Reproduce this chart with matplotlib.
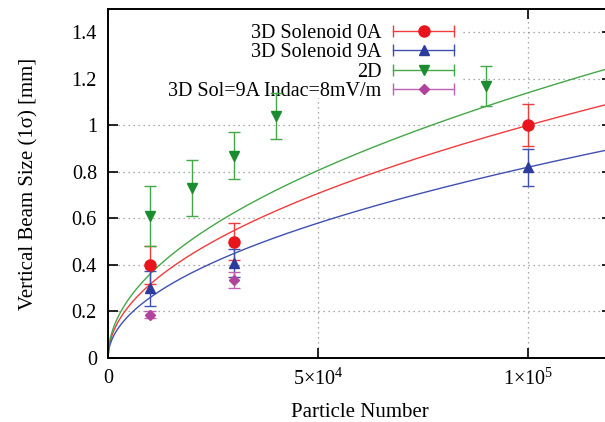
import numpy as np
import matplotlib
matplotlib.use('Agg')
import matplotlib.pyplot as plt
from matplotlib.lines import Line2D
from matplotlib.patches import Rectangle
from matplotlib.legend_handler import HandlerLine2D

plt.rcParams['font.family'] = ['Liberation Serif', 'DejaVu Serif']
plt.rcParams['mathtext.fontset'] = 'custom'
plt.rcParams['mathtext.rm'] = 'Liberation Serif'
plt.rcParams['mathtext.it'] = 'Liberation Serif:italic'

# datos (x = numero de particulas, y = tamano vertical en mm)
x_0a = [1e4, 3e4, 1e5]
y_0a = [0.40, 0.50, 1.00]
err_0a = [0.08, 0.08, 0.09]

x_9a = [1e4, 3e4, 1e5]
y_9a = [0.30, 0.41, 0.82]
err_9a = [0.075, 0.06, 0.08]

x_2d = [1e4, 2e4, 3e4, 4e4, 9e4]
y_2d = [0.61, 0.73, 0.87, 1.04, 1.17]
err_2d = [0.13, 0.12, 0.10, 0.10, 0.085]

x_indac = [1e4, 3e4]
y_indac = [0.185, 0.335]
err_indac = [0.015, 0.035]

# coeficientes del ajuste a*sqrt(N/1e5)
fit_0a = 1.00
fit_9a = 0.82
fit_2d = 1.14

labels = ['3D Solenoid 0A', '3D Solenoid 9A', '2D', '3D Sol=9A Indac=8mV/m']
colores = ['#e8161c', '#2c3c9c', '#1c8c30', '#b0449c']
colores_linea = ['#f03c3c', '#4050b0', '#44a848', '#c060b0']
markers = ['o', '^', 'v', 'D']
msizes = [8, 7, 7, 5]

fig = plt.figure(figsize=(6.05, 4.22), dpi=100)
ax = fig.add_axes([0.1785, 0.1517, 0.8331, 0.827])

xx = np.linspace(0, 1.2e5, 600)
for a, c in zip([fit_0a, fit_9a, fit_2d], colores_linea[:3]):
    ax.plot(xx, a * np.sqrt(xx / 1e5), color=c, lw=1.0, zorder=2)

series = [(x_0a, y_0a, err_0a), (x_9a, y_9a, err_9a),
          (x_2d, y_2d, err_2d), (x_indac, y_indac, err_indac)]
for (x, y, e), c, cl, m, ms in zip(series, colores, colores_linea, markers, msizes):
    ax.errorbar(x, y, yerr=e, fmt=m, color=c, ecolor=cl, ms=ms,
                elinewidth=1.0, capsize=4.5, capthick=1.0, zorder=6)

ax.set_xlim(0, 1.2e5)
ax.set_ylim(0, 1.5)
ax.set_xticks([0, 5e4, 1e5])
ax.set_xticklabels(['0', r'$5{\times}10^4$', r'$1{\times}10^5$'])
ax.set_yticks([0, 0.2, 0.4, 0.6, 0.8, 1.0, 1.2, 1.4])
ax.set_yticklabels(['0', '0.2', '0.4', '0.6', '0.8', '1', '1.2', '1.4'])
ax.tick_params(direction='in', length=7, width=1.2, top=True, right=True,
               labelsize=14.5, pad=8)
for s in ax.spines.values():
    s.set_linewidth(1.4)
ax.grid(True, linestyle=(0, (1, 3)), color='#909090', lw=0.9, zorder=0)
ax.set_axisbelow(True)

ax.set_xlabel('Particle Number', fontsize=15, labelpad=9)
ax.set_ylabel('Vertical Beam Size (1σ) [mm]', fontsize=15, labelpad=24)

# fondo blanco de la leyenda (tapa la grilla como en gnuplot)
ax.add_patch(Rectangle((0, 0.745), 0.705, 0.26, transform=ax.transAxes,
                       facecolor='white', edgecolor='none', zorder=1))

handles = []
hmap = {}
for c, cl, m, ms in zip(colores, colores_linea, markers, msizes):
    caps = Line2D([], [], color=cl, lw=1.0, marker='|', ms=9, mew=1.0)
    punto = Line2D([], [], color=c, marker=m, ms=ms, ls='none')
    hmap[caps] = HandlerLine2D(numpoints=2)
    hmap[punto] = HandlerLine2D(numpoints=1)
    handles.append((caps, punto))
leg = ax.legend(handles, labels, handler_map=hmap, loc='upper right',
                bbox_to_anchor=(0.698, 0.958), frameon=False, markerfirst=False,
                fontsize=14.5, handlelength=3.6, handletextpad=0.3,
                labelspacing=0.02, borderaxespad=0, borderpad=0)
for t in leg.get_texts():
    t.set_ha('right')
leg.set_zorder(3)

fig.savefig('out.png', dpi=100)
